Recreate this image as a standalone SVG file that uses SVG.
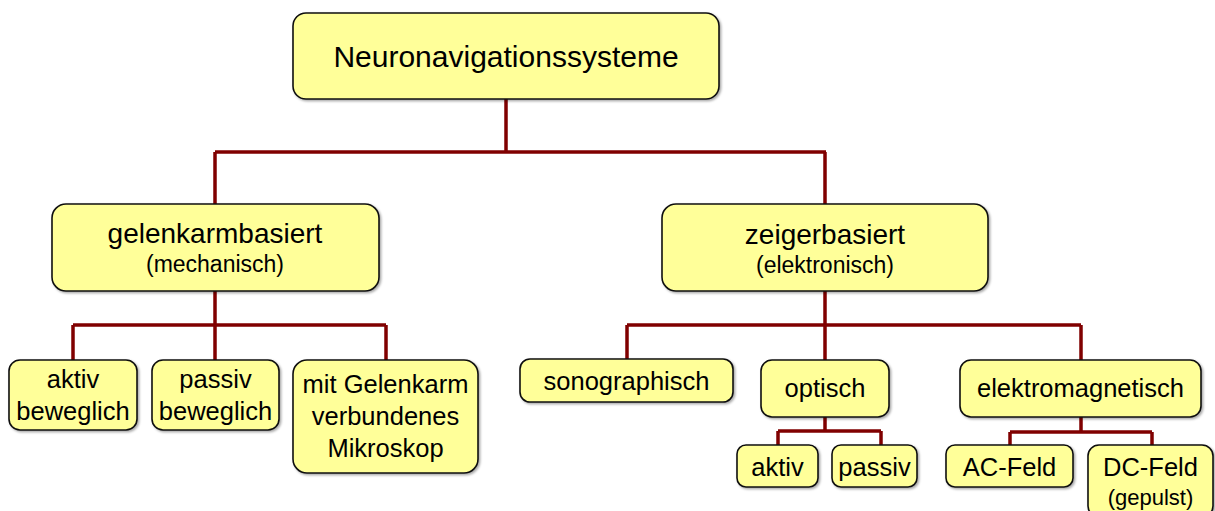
<svg xmlns="http://www.w3.org/2000/svg" width="1215" height="511" viewBox="0 0 1215 511">
<defs>
<filter id="sh" x="-10%" y="-10%" width="120%" height="130%"><feDropShadow dx="1.5" dy="1.5" stdDeviation="1" flood-color="#000" flood-opacity="0.35"/></filter>
<style>
.box{fill:#FFFF99;stroke:#111;stroke-width:1.6;filter:url(#sh)}
.t{font-family:"Liberation Sans",Arial,sans-serif;fill:#000;text-anchor:middle}
.f30{font-size:30px}.f28{font-size:28px}.f25{font-size:25.5px}.f23{font-size:23px}.f22{font-size:22px}
.c{fill:none;stroke:#800000;stroke-width:3.5}
</style>
</defs>
<rect width="1215" height="511" fill="#fff"/>
<g id="connectors">
<path class="c" d="M506 99V152M215 152H826M215 152V204M825 152V204"/>
<path class="c" d="M215 291V325M73 325H386M73 325V360M215 325V360M386 325V360"/>
<path class="c" d="M825 291V325M627 325H1081M627 325V359M825 325V360M1081 325V360"/>
<path class="c" d="M825 417V431M778 431H881M778 431V445M881 431V445"/>
<path class="c" d="M1081 417V432M1010 432H1152M1010 432V445M1152 432V445"/>
</g>
<g id="root"><rect class="box" x="293" y="13" width="426" height="86" rx="13"/><text class="t f30" x="506" y="67">Neuronavigationssysteme</text></g>
<g id="gelenkarm"><rect class="box" x="52" y="204" width="327" height="87" rx="14"/><text class="t f28" x="215" y="243">gelenkarmbasiert</text><text class="t f23" x="215" y="272">(mechanisch)</text></g>
<g id="zeiger"><rect class="box" x="662" y="204" width="326" height="87" rx="14"/><text class="t f28" x="825" y="244">zeigerbasiert</text><text class="t f23" x="825" y="273">(elektronisch)</text></g>
<g id="aktivbeweglich"><rect class="box" x="9" y="360" width="128" height="70" rx="11"/><text class="t f25" x="73" y="388">aktiv</text><text class="t f25" x="73" y="420">beweglich</text></g>
<g id="passivbeweglich"><rect class="box" x="152" y="360" width="127" height="70" rx="11"/><text class="t f25" x="215.5" y="388">passiv</text><text class="t f25" x="215.5" y="420">beweglich</text></g>
<g id="mikroskop"><rect class="box" x="293" y="360" width="185" height="113" rx="14"/><text class="t f25" x="385.5" y="393">mit Gelenkarm</text><text class="t f25" x="385.5" y="425">verbundenes</text><text class="t f25" x="385.5" y="457">Mikroskop</text></g>
<g id="sonographisch"><rect class="box" x="520" y="359" width="213" height="43" rx="10"/><text class="t f25" x="626.5" y="390">sonographisch</text></g>
<g id="optisch"><rect class="box" x="761" y="360" width="128" height="57" rx="11"/><text class="t f25" x="825" y="397">optisch</text></g>
<g id="aktiv"><rect class="box" x="737" y="445" width="81" height="42" rx="9"/><text class="t f25" x="777.5" y="476">aktiv</text></g>
<g id="passiv"><rect class="box" x="832" y="445" width="85" height="42" rx="9"/><text class="t f25" x="874.5" y="476">passiv</text></g>
<g id="elektromagnetisch"><rect class="box" x="960" y="360" width="241" height="57" rx="11"/><text class="t f25" x="1080.5" y="397">elektromagnetisch</text></g>
<g id="acfeld"><rect class="box" x="946" y="445" width="127" height="42" rx="9"/><text class="t f25" x="1009.5" y="476">AC-Feld</text></g>
<g id="dcfeld"><rect class="box" x="1088" y="445" width="125" height="72" rx="11"/><text class="t f25" x="1150.5" y="476">DC-Feld</text><text class="t f22" x="1150.5" y="505">(gepulst)</text></g>
</svg>
